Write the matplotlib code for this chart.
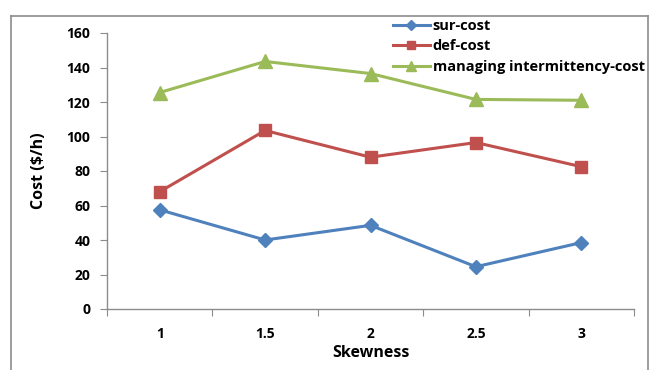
import matplotlib
matplotlib.use("Agg")
import matplotlib.pyplot as plt
from matplotlib.lines import Line2D

skewness = ["1", "1.5", "2", "2.5", "3"]
sur_cost = [57.5, 40, 48.5, 24.5, 38.5]
def_cost = [68, 103.5, 88, 96.5, 82.5]
managing_cost = [125.5, 143.5, 136.5, 121.5, 121]
y_ticks = [0, 20, 40, 60, 80, 100, 120, 140, 160]

plt.rcParams['font.family'] = ['Open Sans', 'DejaVu Sans']

fig = plt.figure(figsize=(6.51, 3.70), dpi=100)
ax = fig.add_axes([107/651, 1 - 309/370, (634 - 107)/651, (309 - 33)/370])

# outer chart frame (open at the bottom)
frame = "#8c8c8c"
fx0, fx1, fy = 10.5/651, 647.5/651, 1 - 15.5/370
for xs, ys in [([fx0, fx1], [fy, fy]), ([fx0, fx0], [fy, 0]), ([fx1, fx1], [fy, 0])]:
    fig.add_artist(Line2D(xs, ys, transform=fig.transFigure, color=frame, linewidth=1.2))

x = list(range(len(skewness)))
series = [
    (sur_cost, "sur-cost", "#4F81BD", "D", 7.5),
    (def_cost, "def-cost", "#C0504D", "s", 8.5),
    (managing_cost, "managing intermittency-cost", "#9BBB59", "^", 9.5),
]
for vals, name, col, mk, ms in series:
    ax.plot(x, vals, color=col, linewidth=2.2, marker=mk, markersize=ms,
            markerfacecolor=col, markeredgecolor=col, label=name)

ax.set_xlim(-0.5, len(skewness) - 0.5)
ax.set_ylim(0, 160)
ax.set_yticks(y_ticks)
ax.set_yticklabels([str(v) for v in y_ticks], fontsize=10, fontweight="bold")

# category labels at centres, tick marks at boundaries
ax.set_xticks([i - 0.5 for i in range(len(skewness) + 1)])
ax.set_xticklabels([])
ax.set_xticks(x, minor=True)
ax.set_xticklabels(skewness, minor=True, fontsize=10, fontweight="bold")
ax.tick_params(axis="x", which="major", length=5, color=frame, direction="out")
ax.tick_params(axis="x", which="minor", length=0, pad=13)
ax.tick_params(axis="y", length=5, color=frame, direction="out", pad=7)

for s in ["top", "right"]:
    ax.spines[s].set_visible(False)
for s in ["left", "bottom"]:
    ax.spines[s].set_color(frame)
    ax.spines[s].set_linewidth(1.0)

ax.set_ylabel("Cost ($/h)", fontsize=11.5, fontweight="bold", labelpad=14)
ax.set_xlabel("Skewness", fontsize=11.5, fontweight="bold", labelpad=3)

leg = ax.legend(loc="upper left", bbox_to_anchor=(0.543, 1.051), frameon=False,
                fontsize=10.5, handlelength=2.5, handletextpad=0.2,
                labelspacing=0.45, borderaxespad=0, borderpad=0, markerscale=0.7)
for t in leg.get_texts():
    t.set_fontweight("bold")

fig.savefig("out.png", dpi=100)
